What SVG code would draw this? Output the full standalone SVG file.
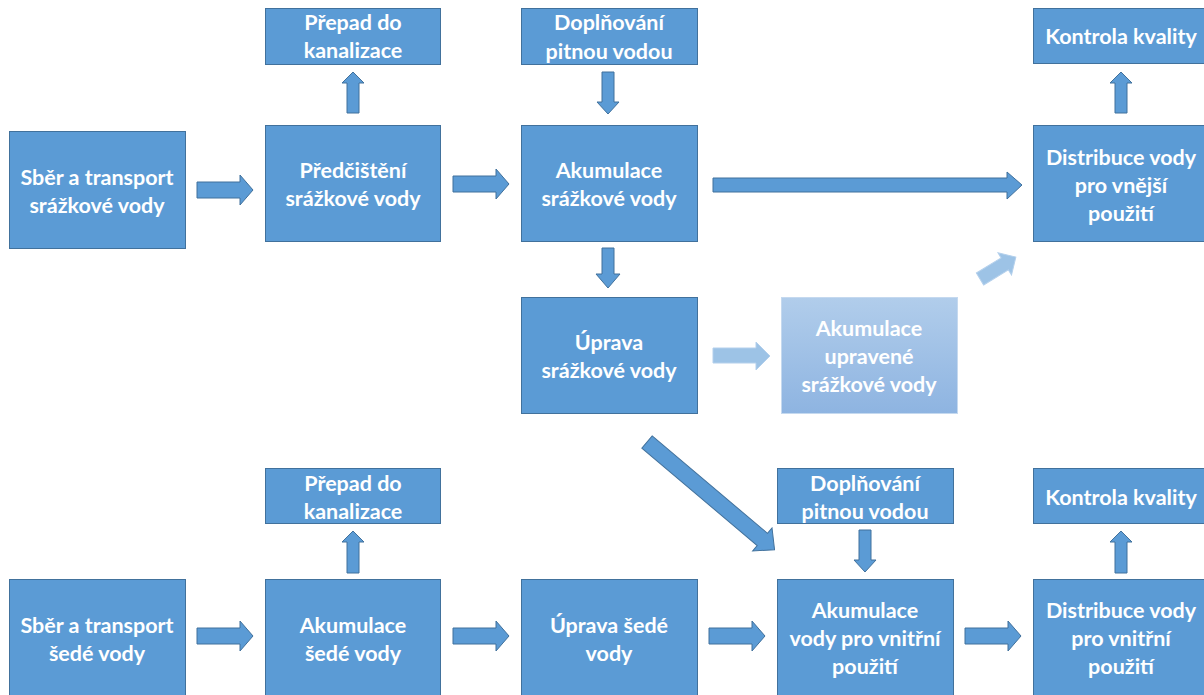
<svg xmlns="http://www.w3.org/2000/svg" width="1204" height="695" viewBox="0 0 1204 695">
<defs>
<linearGradient id="lightGrad" x1="0" y1="0" x2="0" y2="1">
<stop offset="0" stop-color="#B1CDEB"/>
<stop offset="1" stop-color="#8EB4E1"/>
</linearGradient>
<style>
.box{fill:#5B9BD5;stroke:#41719C;stroke-width:1}
.lbox{fill:url(#lightGrad);stroke:#C5D9EF;stroke-width:1}
.arr{fill:#5B9BD5;stroke:#41719C;stroke-width:1}
.larr{fill:#9DC3E6;stroke:#B4D0EC;stroke-width:1}
text{font-family:Lato,"Open Sans","Liberation Sans",sans-serif;font-weight:700;font-size:21.5px;fill:#FFFFFF;text-anchor:middle}
</style>
</defs>
<rect width="1204" height="695" fill="#FFFFFF"/>

<g id="connectors">
<path class="arr" d="M197,182 H240 V175 L253,190 L240,205 V198 H197 Z"/>
<path class="arr" d="M453,176 H496 V169 L509,184 L496,199 V192 H453 Z"/>
<path class="arr" d="M713,178 H1007 V172 L1022,185 L1007,199 V192 H713 Z"/>
<path class="arr" d="M347,113 V83 H342 L353,72 L364,83 H359 V113 Z"/>
<path class="arr" d="M1115,113 V83 H1110 L1121,72 L1132,83 H1127 V113 Z"/>
<path class="arr" d="M602,72 V102 H597 L608,114 L619,102 H614 V72 Z"/>
<path class="arr" d="M602,248 V274 H596 L608,288 L620,274 H614 V248 Z"/>
<path class="larr" d="M713,348 H756 V342 L770,356 L756,370 V363 H713 Z"/>
<path class="larr" transform="translate(980,279) rotate(-31.4)" d="M0,-7 H29 V-13 L42,0 L29,13 V7 H0 Z"/>
<path class="arr" transform="translate(647,442) rotate(40.2)" d="M0,-8 H151 V-15 L167,0 L151,15 V8 H0 Z"/>
<path class="arr" d="M347,573 V542 H342 L353,531 L364,542 H359 V573 Z"/>
<path class="arr" d="M1115,573 V542 H1110 L1121,531 L1132,542 H1127 V573 Z"/>
<path class="arr" d="M859,530 V560 H854 L865,572 L876,560 H871 V530 Z"/>
<path class="arr" d="M197,628 H240 V621 L253,636 L240,651 V644 H197 Z"/>
<path class="arr" d="M453,628 H496 V621 L509,636 L496,651 V644 H453 Z"/>
<path class="arr" d="M709,628 H752 V621 L765,636 L752,651 V644 H709 Z"/>
<path class="arr" d="M965,628 H1008 V621 L1021,636 L1008,651 V644 H965 Z"/>
</g>

<g id="sber-srazkove"><rect class="box" x="9.5" y="131.5" width="176" height="117"/><text x="97" y="185">Sběr a transport</text><text x="97" y="213">srážkové vody</text></g>
<g id="prepad-1"><rect class="box" x="265.5" y="8.5" width="175" height="56"/><text x="353" y="30">Přepad do</text><text x="353" y="58">kanalizace</text></g>
<g id="predcisteni"><rect class="box" x="265.5" y="125.5" width="175" height="116"/><text x="353" y="178">Předčištění</text><text x="353" y="206">srážkové vody</text></g>
<g id="doplnovani-1"><rect class="box" x="521.5" y="8.5" width="176" height="56"/><text x="609" y="30">Doplňování</text><text x="609" y="59">pitnou vodou</text></g>
<g id="akumulace-srazkove"><rect class="box" x="521.5" y="125.5" width="176" height="116"/><text x="609" y="178">Akumulace</text><text x="609" y="206">srážkové vody</text></g>
<g id="kontrola-1"><rect class="box" x="1033.5" y="8.5" width="172" height="55"/><text x="1121" y="44">Kontrola kvality</text></g>
<g id="distribuce-vnejsi"><rect class="box" x="1033.5" y="125.5" width="172" height="116"/><text x="1121" y="165">Distribuce vody</text><text x="1121" y="193">pro vnější</text><text x="1121" y="221">použití</text></g>
<g id="uprava-srazkove"><rect class="box" x="521.5" y="297.5" width="176" height="116"/><text x="609" y="350">Úprava</text><text x="609" y="378">srážkové vody</text></g>
<g id="akumulace-upravene"><rect class="lbox" x="781.5" y="297.5" width="176" height="116"/><text x="869" y="336">Akumulace</text><text x="869" y="364">upravené</text><text x="869" y="392">srážkové vody</text></g>

<g id="prepad-2"><rect class="box" x="265.5" y="468.5" width="175" height="55"/><text x="353" y="491">Přepad do</text><text x="353" y="519">kanalizace</text></g>
<g id="doplnovani-2"><rect class="box" x="777.5" y="468.5" width="176" height="55"/><text x="865" y="491">Doplňování</text><text x="865" y="519">pitnou vodou</text></g>
<g id="kontrola-2"><rect class="box" x="1033.5" y="468.5" width="172" height="55"/><text x="1121" y="505">Kontrola kvality</text></g>
<g id="sber-sede"><rect class="box" x="9.5" y="579.5" width="176" height="117"/><text x="97" y="633">Sběr a transport</text><text x="97" y="661">šedé vody</text></g>
<g id="akumulace-sede"><rect class="box" x="265.5" y="579.5" width="175" height="117"/><text x="353" y="633">Akumulace</text><text x="353" y="661">šedé vody</text></g>
<g id="uprava-sede"><rect class="box" x="521.5" y="579.5" width="176" height="117"/><text x="609" y="633">Úprava šedé</text><text x="609" y="661">vody</text></g>
<g id="akumulace-vnitrni"><rect class="box" x="777.5" y="579.5" width="176" height="117"/><text x="865" y="618">Akumulace</text><text x="865" y="646">vody pro vnitřní</text><text x="865" y="674">použití</text></g>
<g id="distribuce-vnitrni"><rect class="box" x="1033.5" y="579.5" width="172" height="117"/><text x="1121" y="618">Distribuce vody</text><text x="1121" y="646">pro vnitřní</text><text x="1121" y="674">použití</text></g>
</svg>
